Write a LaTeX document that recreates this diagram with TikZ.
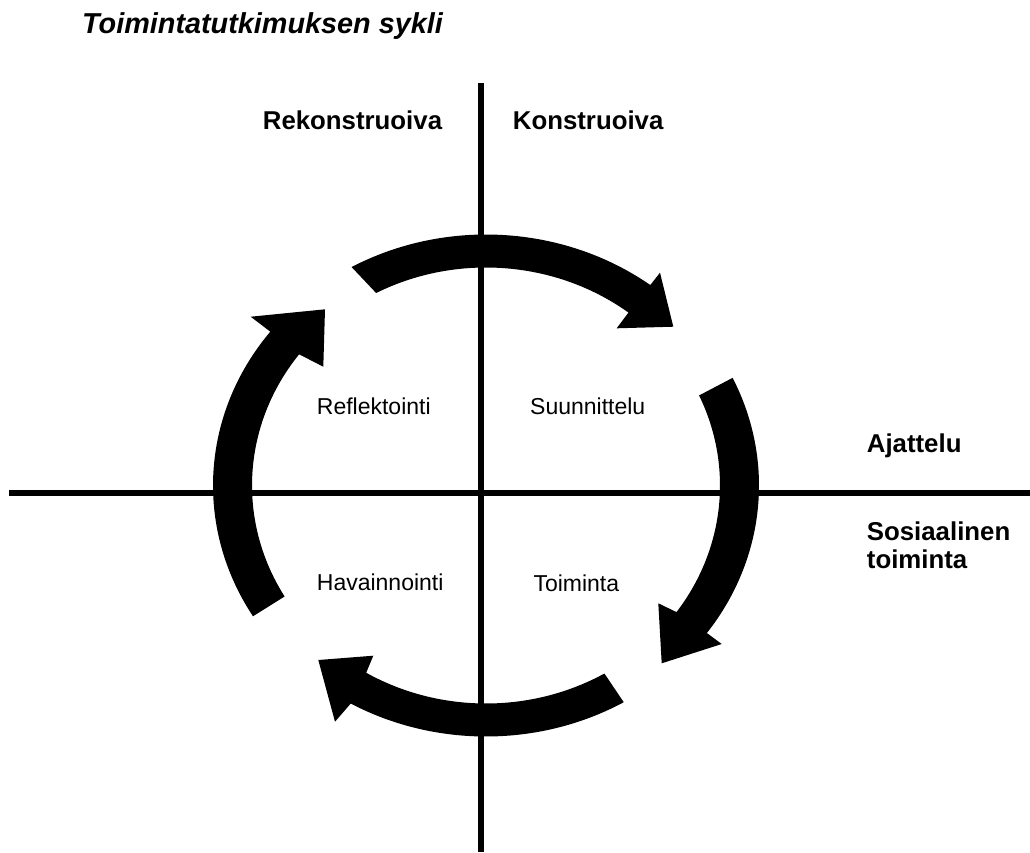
\documentclass[tikz,border=0pt]{standalone}
\usepackage{fontspec}
\setmainfont{Liberation Sans}
\begin{document}
\begin{tikzpicture}[x=1pt,y=1pt,
  axis/.style={line width=6.5pt},
  cyc/.style={fill=black},
  lbl/.style={inner sep=0pt, anchor=base west, font=\fontsize{23}{27}\selectfont},
  blbl/.style={inner sep=0pt, anchor=base west, align=left, font=\fontsize{25.8}{28.3}\selectfont\bfseries},
  ttl/.style={inner sep=0pt, anchor=base west, font=\fontsize{28.8}{34}\selectfont\bfseries\itshape},
]
\useasboundingbox (0,0) rectangle (1030,-852);
\fill[white] (0,0) rectangle (1030,-852);
\coordinate (C) at (486,-485.5);
\coordinate (vt) at (481,-83);
\coordinate (vb) at (481,-852);
\coordinate (hl) at (9,-493);
\coordinate (hr) at (1030,-493);
\draw[axis] (vt) -- (vb);
\draw[axis] (hl) -- (hr);
% top arrow
\fill[cyc] ([shift={(C)}]119.5:273 and 251) arc[start angle=119.5,end angle=53,x radius=273,y radius=251]
  -- (660,-272.7) -- (673.3,-326.7) -- (616.7,-328.3)
  -- ([shift={(C)}]52.5:234 and 218) arc[start angle=52.5,end angle=118,x radius=234,y radius=218] -- cycle;
% right arrow
\fill[cyc] ([shift={(C)}]25.4:273 and 251) arc[start angle=25.4,end angle=-36,x radius=273,y radius=251]
  -- (721.7,-644) -- (661.7,-663.3) -- (658.3,-603.3)
  -- ([shift={(C)}]-35.5:234 and 218) arc[start angle=-35.5,end angle=24.4,x radius=234,y radius=218] -- cycle;
% bottom arrow
\fill[cyc] ([shift={(C)}]-59.7:273 and 251) arc[start angle=-59.7,end angle=-119.7,x radius=273,y radius=251]
  -- (335,-721.7) -- (318.3,-660) -- (373.3,-655.7)
  -- ([shift={(C)}]-120.8:234 and 218) arc[start angle=-120.8,end angle=-59.6,x radius=234,y radius=218] -- cycle;
% left arrow
\fill[cyc] ([shift={(C)}]211.4:273 and 251) arc[start angle=211.4,end angle=142.2,x radius=273,y radius=251]
  -- (250.7,-316.7) -- (325,-309.3) -- (323.3,-366.7)
  -- ([shift={(C)}]143:234 and 218) arc[start angle=143,end angle=210.6,x radius=234,y radius=218] -- cycle;
% texts
\node[ttl] (title) at (82,-33.3) {Toimintatutkimuksen sykli};
\node[blbl] (rek) at (262.7,-129.3) {Rekonstruoiva};
\node[blbl] (kon) at (512.7,-129.3) {Konstruoiva};
\node[blbl] (aja) at (866.7,-452.3) {Ajattelu};
\node[blbl] (sos) at (866.7,-568.3) {Sosiaalinen\\toiminta};
\node[lbl] (ref) at (316.7,-414) {Reflektointi};
\node[lbl] (suu) at (530,-414) {Suunnittelu};
\node[lbl] (hav) at (316.7,-590) {Havainnointi};
\node[lbl] (toi) at (533.3,-591.7) {Toiminta};
\end{tikzpicture}
\end{document}
